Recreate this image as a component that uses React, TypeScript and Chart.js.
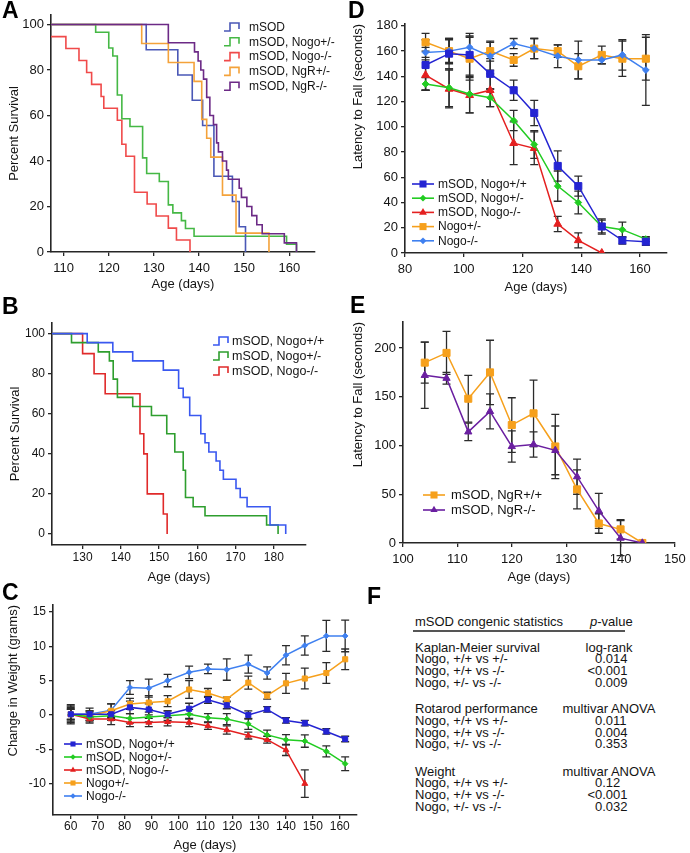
import React, { useEffect, useRef } from 'react';
import { Chart, registerables } from 'chart.js';

Chart.register(...registerables);

const FONT = '"Liberation Sans", Arial, Helvetica, sans-serif';
const AXIS = '#262626';
const TEXT = '#141414';
const ERR = '#2b2b2b';

// ---------------- Panel A: Kaplan-Meier (day of step, % surviving after it)
const A_MSOD_DAYS = [100, 128.3, 135.3, 138.5, 140.8, 143.3, 147.4, 148.9, 150.3];
const A_MSOD_SURV = [100, 88.9, 77.8, 66.7, 55.6, 33.3, 22.2, 11.1, 0];
const A_HET_DAYS = [100, 117.1, 120, 120.9, 121.9, 122.9, 124.7, 127.5, 128.4, 131.2, 133.2, 134.2, 136.1, 137, 138.9, 159.4, 161.6];
const A_HET_SURV = [100, 96.6, 89.7, 86.2, 69.0, 58.6, 55.2, 41.4, 34.5, 31.0, 20.7, 17.2, 13.8, 10.3, 6.9, 3.4, 0];
const A_KO_DAYS = [100, 106, 110.5, 113.4, 115.1, 116.2, 118.3, 118.9, 121.9, 122.9, 123.8, 125.7, 128.5, 130.5, 133.2, 135, 138];
const A_KO_SURV = [100, 94.7, 89.5, 84.2, 78.9, 73.7, 68.4, 63.2, 57.9, 47.4, 42.1, 26.3, 21.1, 15.8, 10.5, 5.3, 0];
const A_NGRHET_DAYS = [100, 127.3, 133.2, 138.9, 140.6, 141.7, 142.6, 145.2, 148.2, 155.5];
const A_NGRHET_SURV = [100, 91.7, 83.3, 75, 58.3, 50, 41.7, 25, 8.3, 0];
const A_NGRKO_DAYS = [100, 133.2, 139.0, 139.8, 140.4, 141.0, 141.7, 142.4, 143.2, 143.9, 144.3, 145.2, 146.1, 146.5, 148.9, 149.4, 150.6, 151.7, 152.8, 154.0, 158.9, 161.6];
const A_NGRKO_SURV = [100, 92, 88, 84, 80, 76, 68, 60, 56, 48, 44, 40, 36, 32, 28, 24, 20, 16, 12, 8, 4, 0];
const A_LABELS = ['mSOD', 'mSOD, Nogo+/-', 'mSOD, Nogo-/-', 'mSOD, NgR+/-', 'mSOD, NgR-/-'];
const A_X_TICKS = [110, 120, 130, 140, 150, 160];
const A_Y_TICKS = [0, 20, 40, 60, 80, 100];

// ---------------- Panel B: Kaplan-Meier
const B_WT_DAYS = [115, 131.2, 137.9, 143.1, 151.1, 155.1, 156.3, 158, 160.9, 162, 163, 164.9, 165.9, 166.8, 170.1, 171.2, 173, 179, 183.1];
const B_WT_SURV = [100, 95.5, 90.9, 86.4, 81.8, 72.7, 68.2, 59.1, 50, 45.5, 40.9, 36.4, 31.8, 27.3, 22.7, 18.2, 13.6, 4.5, 0];
const B_HET_DAYS = [115, 127.1, 134.1, 137, 138, 139.1, 143.1, 148, 152, 154.1, 156.3, 156.9, 158.9, 162, 178.1, 181.1];
const B_HET_SURV = [100, 95.5, 90.9, 86.4, 77.3, 68.2, 63.6, 59.1, 50, 40.9, 31.8, 18.2, 13.6, 9.1, 4.5, 0];
const B_KO_DAYS = [115, 130, 133, 135.9, 145, 146, 146.9, 151.1, 152.1];
const B_KO_SURV = [100, 90, 80, 70, 50, 40, 20, 10, 0];
const B_LABELS = ['mSOD, Nogo+/+', 'mSOD, Nogo+/-', 'mSOD, Nogo-/-'];
const B_X_TICKS = [130, 140, 150, 160, 170, 180];
const B_Y_TICKS = [0, 20, 40, 60, 80, 100];

// ---------------- Panel C: change in weight (grams)
const C_DAYS = [60, 67, 75, 82, 89, 96, 104, 111, 118, 126, 133, 140, 147, 155, 162];
const C_MSOD_WT = [0.1, 0.1, 0.1, 1.1, 0.8, 0.1, 0.9, 2.2, 1.4, 0.0, 0.8, -0.8, -1.2, -2.4, -3.5];
const C_MSOD_WT_ERR = [0.8, 0.5, 0.6, 0.9, 0.8, 0.5, 0.8, 0.5, 0.5, 0.6, 0.4, 0.4, 0.4, 0.4, 0.4];
const C_MSOD_HET = [0.1, -0.3, -0.1, -0.5, -0.3, -0.1, 0.1, -0.4, -0.6, -1.3, -2.9, -3.6, -3.8, -5.3, -7.1];
const C_MSOD_HET_ERR = [0.7, 0.7, 0.7, 0.7, 0.7, 0.7, 0.7, 0.6, 0.8, 0.8, 0.7, 0.75, 0.9, 0.8, 1.0];
const C_MSOD_KO = [0.1, -0.6, -0.6, -1.1, -1.1, -1.0, -1.1, -1.6, -2.2, -3.0, -3.6, -5.1, -10.0, null, null];
const C_MSOD_KO_ERR = [1.0, 0.6, 0.8, 0.6, 0.6, 0.6, 0.6, 0.5, 0.6, 0.5, 0.5, 0.8, 2.0, 0, 0];
const C_HET = [0.1, -0.1, 0.6, 1.6, 1.8, 2.0, 3.7, 3.2, 2.3, 4.7, 2.8, 4.6, 5.3, 6.1, 8.1];
const C_HET_ERR = [1.2, 0.7, 1.0, 0.8, 1.0, 0.8, 1.3, 0.65, 0.3, 0.95, 0.5, 1.45, 1.5, 1.5, 1.5];
const C_KO = [0.1, 0.1, 0.7, 4.0, 3.9, 5.0, 6.2, 6.7, 6.6, 7.4, 6.1, 8.7, 10.1, 11.5, 11.5];
const C_KO_ERR = [1.4, 0.9, 0.9, 1.0, 1.3, 0.9, 0.9, 0.7, 1.55, 1.3, 0.9, 1.4, 1.4, 2.25, 2.3];
const C_LABELS = ['mSOD, Nogo+/+', 'mSOD, Nogo+/-', 'mSOD, Nogo-/-', 'Nogo+/-', 'Nogo-/-'];
const C_X_TICKS = [60, 70, 80, 90, 100, 110, 120, 130, 140, 150, 160];
const C_Y_TICKS = [-10, -5, 0, 5, 10, 15];

// ---------------- Panel D: rotarod, Nogo
const D_DAYS = [87, 95, 102, 109, 117, 124, 132, 139, 147, 154, 162];
const D_MSOD_WT = [149, 158, 157, 142, 129, 111, 69, 53, 21, 10, 9];
const D_MSOD_WT_ERR = [20, 12, 17, 12, 8, 10, 12, 8, 6, 3, 3];
const D_MSOD_HET = [134, 131, 126, 123, 105, 86, 53, 40, 21, 18.5, 11];
const D_MSOD_HET_ERR = [5, 15, 15, 7, 8, 11, 12, 9, 5, 6, 2];
const D_MSOD_KO = [141, 130, 125, 129, 87, 83, 23, 10, 0, null, null];
const D_MSOD_KO_ERR = [12, 15, 14, 13, 17, 13, 6, 6, 0, 0, 0];
const D_HET = [167, 160, 154, 160, 153, 162, 160, 148, 157, 154, 154];
const D_HET_ERR = [7, 10, 17, 8, 5, 8, 5, 10, 7, 14, 17];
const D_KO = [159, 160, 163, 156, 166, 162, 156, 153, 153, 157, 145];
const D_KO_ERR = [4, 9, 9, 11, 4, 8, 9, 15, 3, 12, 28];
const D_LABELS = ['mSOD, Nogo+/+', 'mSOD, Nogo+/-', 'mSOD, Nogo-/-', 'Nogo+/-', 'Nogo-/-'];
const D_X_TICKS = [80, 100, 120, 140, 160];
const D_Y_TICKS = [0, 20, 40, 60, 80, 100, 120, 140, 160, 180];

// ---------------- Panel E: rotarod, NgR
const E_DAYS = [104, 108, 112, 116, 120, 124, 128, 132, 136, 140, 144];
const E_WT = [185, 195, 148, 175, 121, 133, 99, 55, 20, 14, 0];
const E_WT_ERR = [21, 22, 24, 33, 28, 34, 33, 20, 10, 10, 0];
const E_KO = [172, 169, 114, 135, 99, 101, 95, 68, 33, 5, 0];
const E_KO_ERR = [34, 6, 9, 18, 16, 13, 25, 18, 18, 18, 0];
const E_LABELS = ['mSOD, NgR+/+', 'mSOD, NgR-/-'];
const E_X_TICKS = [100, 110, 120, 130, 140, 150];
const E_Y_TICKS = [0, 50, 100, 150, 200];

// ---------------- Panel F: statistics table
const F_HEADER = 'mSOD congenic statistics';
const F_SECTIONS = [
  { title: 'Kaplan-Meier survival', test: 'log-rank', rows: [['Nogo, +/+ vs +/-', '0.014'], ['Nogo, +/+ vs -/-', '<0.001'], ['Nogo, +/- vs -/-', '0.009']] },
  { title: 'Rotarod performance', test: 'multivar ANOVA', rows: [['Nogo, +/+ vs +/-', '0.011'], ['Nogo, +/+ vs -/-', '0.004'], ['Nogo, +/- vs -/-', '0.353']] },
  { title: 'Weight', test: 'multivar ANOVA', rows: [['Nogo, +/+ vs +/-', '0.12'], ['Nogo, +/+ vs -/-', '<0.001'], ['Nogo, +/- vs -/-', '0.032']] },
];

// ---------------- colours
const COL = {
  aBlue: '#4a58b6', aGreen: '#45b845', aRed: '#f04a4a', aOrange: '#f4a23a', aPurple: '#6c2a86',
  bBlue: '#3a58f0', bGreen: '#2e9e2e', bRed: '#e02a2a',
  dBlue: '#2424d2', dGreen: '#22cc22', dRed: '#e42020', dOrange: '#f6a01c', dLight: '#3f80f0',
  ePurple: '#6a1fa0',
};

type Geo = { left: number; top: number; w: number; h: number; plotL: number; plotT: number; plotR: number; plotB: number; yTitleX: number; xTitleY: number; xTickY: number; tick: number };

const A_GEO: Geo = { left: 0, top: 0, w: 345, h: 296, plotL: 51, plotT: 15, plotR: 315, plotB: 252, yTitleX: 14, xTitleY: 284, xTickY: 268, tick: 13 };
const B_GEO: Geo = { left: 0, top: 298, w: 345, h: 292, plotL: 52, plotT: 323, plotR: 306, plotB: 545, yTitleX: 15, xTitleY: 577, xTickY: 558, tick: 12 };
const C_GEO: Geo = { left: 0, top: 592, w: 372, h: 261, plotL: 53, plotT: 605, plotR: 357, plotB: 815, yTitleX: 13, xTitleY: 845, xTickY: 827, tick: 12 };
const D_GEO: Geo = { left: 345, top: 0, w: 345, h: 296, plotL: 405, plotT: 24, plotR: 667, plotB: 253, yTitleX: 358, xTitleY: 287, xTickY: 269, tick: 13 };
const E_GEO: Geo = { left: 345, top: 298, w: 345, h: 292, plotL: 403, plotT: 322, plotR: 677, plotB: 543, yTitleX: 358, xTitleY: 577, xTickY: 559, tick: 13 };

function pts(xs: number[], ys: (number | null)[]) {
  return xs.map((x, i) => ({ x, y: ys[i] }));
}

function km(label: string, days: number[], surv: number[], color: string, order: number) {
  return { label, data: pts(days, surv), borderColor: color, backgroundColor: color, borderWidth: 1.6, pointRadius: 0, stepped: true, fill: false, order };
}

function series(label: string, days: number[], vals: (number | null)[], errs: number[], color: string, style: string, r: number, order: number) {
  return {
    label, data: pts(days, vals), errors: errs, borderColor: color, backgroundColor: color,
    pointBackgroundColor: color, pointBorderColor: color, pointBorderWidth: 1, pointStyle: style,
    pointRadius: r, borderWidth: 1.5, tension: 0, fill: false, spanGaps: false, order,
  };
}

function drawMarker(ctx: CanvasRenderingContext2D, style: string, x: number, y: number, r: number, color: string) {
  ctx.fillStyle = color;
  ctx.beginPath();
  if (style === 'rect') {
    const s = r * Math.SQRT1_2;
    ctx.rect(x - s, y - s, 2 * s, 2 * s);
  } else if (style === 'triangle') {
    let a = 0;
    ctx.moveTo(x + Math.sin(a) * r, y - Math.cos(a) * r);
    a += (2 * Math.PI) / 3;
    ctx.lineTo(x + Math.sin(a) * r, y - Math.cos(a) * r);
    a += (2 * Math.PI) / 3;
    ctx.lineTo(x + Math.sin(a) * r, y - Math.cos(a) * r);
    ctx.closePath();
  } else {
    ctx.moveTo(x, y - r);
    ctx.lineTo(x + r, y);
    ctx.lineTo(x, y + r);
    ctx.lineTo(x - r, y);
    ctx.closePath();
  }
  ctx.fill();
}

const errorBarPlugin = {
  id: 'errorBars',
  beforeDatasetsDraw(chart: any) {
    const ctx = chart.ctx as CanvasRenderingContext2D;
    const xs = chart.scales.x;
    const ys = chart.scales.y;
    ctx.save();
    ctx.strokeStyle = ERR;
    ctx.lineWidth = 1.3;
    chart.data.datasets.forEach((ds: any) => {
      if (!ds.errors) return;
      const cap = ds.cap || 4;
      ds.data.forEach((p: any, i: number) => {
        const e = ds.errors[i];
        if (!p || p.y == null || !e) return;
        const x = xs.getPixelForValue(p.x);
        const y1 = ys.getPixelForValue(p.y - e);
        const y2 = ys.getPixelForValue(p.y + e);
        ctx.beginPath();
        ctx.moveTo(x, y1); ctx.lineTo(x, y2);
        ctx.moveTo(x - cap, y1); ctx.lineTo(x + cap, y1);
        ctx.moveTo(x - cap, y2); ctx.lineTo(x + cap, y2);
        ctx.stroke();
      });
    });
    ctx.restore();
  },
};

type LegendSpec = {
  items: { label: string; color: string; style?: string; r?: number }[];
  kind: 'km' | 'line';
  iconX: number; iconW: number; textX: number; y0: number; dy: number; size: number;
};

function legendPlugin(g: Geo, L: LegendSpec) {
  return {
    id: 'panelLegend',
    afterDraw(chart: any) {
      const ctx = chart.ctx as CanvasRenderingContext2D;
      ctx.save();
      L.items.forEach((it, i) => {
        const yc = L.y0 + i * L.dy - g.top;
        const x0 = L.iconX - g.left;
        ctx.strokeStyle = it.color;
        ctx.lineWidth = 1.6;
        ctx.beginPath();
        if (L.kind === 'km') {
          ctx.moveTo(x0, yc + 4);
          ctx.lineTo(x0 + 6, yc + 4);
          ctx.lineTo(x0 + 6, yc - 4);
          ctx.lineTo(x0 + L.iconW, yc - 4);
          ctx.lineTo(x0 + L.iconW, yc + 2);
        } else {
          ctx.moveTo(x0, yc);
          ctx.lineTo(x0 + L.iconW, yc);
        }
        ctx.stroke();
        if (L.kind === 'line' && it.style) drawMarker(ctx, it.style, x0 + L.iconW / 2, yc, it.r || 3, it.color);
        ctx.fillStyle = TEXT;
        ctx.font = `${L.size}px ${FONT}`;
        ctx.textBaseline = 'middle';
        ctx.textAlign = 'left';
        ctx.fillText(it.label, L.textX - g.left, yc + 0.5);
      });
      ctx.restore();
    },
  };
}

type Spec = {
  geo: Geo; xMin: number; xMax: number; yMin: number; yMax: number;
  xTicks: number[]; yTicks: number[]; yTitle: string; yAlign: 'start' | 'center' | 'end';
  datasets: any[]; legend: LegendSpec;
};

function makeConfig(s: Spec): any {
  const g = s.geo;
  const lh = 13 * 1.2;
  return {
    type: 'line',
    data: { datasets: s.datasets },
    options: {
      responsive: false,
      animation: false,
      devicePixelRatio: 1,
      events: [],
      layout: { padding: { left: 0, top: g.plotT - g.top, right: g.left + g.w - g.plotR, bottom: 0 } },
      plugins: { legend: { display: false }, tooltip: { enabled: false }, title: { display: false } },
      scales: {
        x: {
          type: 'linear', min: s.xMin, max: s.xMax, bounds: 'data',
          afterBuildTicks: (sc: any) => { sc.ticks = s.xTicks.map((v) => ({ value: v })); },
          afterFit: (sc: any) => { sc.height = g.top + g.h - g.plotB; },
          ticks: { font: { size: g.tick, family: FONT }, color: TEXT, padding: g.xTickY - g.plotB - 4 - 0.6 * g.tick, maxRotation: 0, autoSkip: false },
          grid: { display: true, drawOnChartArea: false, drawTicks: true, tickLength: 4, color: AXIS, lineWidth: 1.3 },
          border: { display: true, color: AXIS, width: 1.6 },
          title: { display: true, text: 'Age (days)', font: { size: 13, family: FONT }, color: TEXT, padding: { top: 0, bottom: g.top + g.h - g.xTitleY - lh / 2 } },
        },
        y: {
          type: 'linear', min: s.yMin, max: s.yMax, bounds: 'data',
          afterBuildTicks: (sc: any) => { sc.ticks = s.yTicks.map((v) => ({ value: v })); },
          afterFit: (sc: any) => { sc.width = g.plotL - g.left; },
          ticks: { font: { size: g.tick, family: FONT }, color: TEXT, padding: 3, autoSkip: false },
          grid: { display: true, drawOnChartArea: false, drawTicks: true, tickLength: 4, color: AXIS, lineWidth: 1.3 },
          border: { display: true, color: AXIS, width: 1.6 },
          title: { display: true, text: s.yTitle, align: s.yAlign, font: { size: 13, family: FONT }, color: TEXT, padding: { top: g.yTitleX - g.left - lh / 2, bottom: 0 } },
        },
      },
    },
    plugins: [errorBarPlugin, legendPlugin(g, s.legend)],
  };
}

function PanelChart({ spec }: { spec: Spec }) {
  const ref = useRef<HTMLCanvasElement>(null);
  useEffect(() => {
    if (!ref.current) return;
    const chart = new Chart(ref.current, makeConfig(spec));
    return () => chart.destroy();
  }, []);
  const g = spec.geo;
  return (
    <canvas ref={ref} width={g.w} height={g.h}
      style={{ position: 'absolute', left: g.left, top: g.top, width: g.w, height: g.h }} />
  );
}

const SPEC_A: Spec = {
  geo: A_GEO, xMin: 107.2, xMax: 165.7, yMin: 0, yMax: 104.2, xTicks: A_X_TICKS, yTicks: A_Y_TICKS,
  yTitle: 'Percent Survival', yAlign: 'center',
  datasets: [
    km(A_LABELS[4], A_NGRKO_DAYS, A_NGRKO_SURV, COL.aPurple, 0),
    km(A_LABELS[3], A_NGRHET_DAYS, A_NGRHET_SURV, COL.aOrange, 1),
    km(A_LABELS[0], A_MSOD_DAYS, A_MSOD_SURV, COL.aBlue, 2),
    km(A_LABELS[1], A_HET_DAYS, A_HET_SURV, COL.aGreen, 3),
    km(A_LABELS[2], A_KO_DAYS, A_KO_SURV, COL.aRed, 4),
  ],
  legend: {
    kind: 'km', iconX: 224, iconW: 15, textX: 249, y0: 27, dy: 14.8, size: 12,
    items: [
      { label: A_LABELS[0], color: COL.aBlue }, { label: A_LABELS[1], color: COL.aGreen },
      { label: A_LABELS[2], color: COL.aRed }, { label: A_LABELS[3], color: COL.aOrange },
      { label: A_LABELS[4], color: COL.aPurple },
    ],
  },
};

const SPEC_B: Spec = {
  geo: B_GEO, xMin: 122, xMax: 188.4, yMin: -5.5, yMax: 105.3, xTicks: B_X_TICKS, yTicks: B_Y_TICKS,
  yTitle: 'Percent Survival', yAlign: 'center',
  datasets: [
    km(B_LABELS[0], B_WT_DAYS, B_WT_SURV, COL.bBlue, 0),
    km(B_LABELS[1], B_HET_DAYS, B_HET_SURV, COL.bGreen, 1),
    km(B_LABELS[2], B_KO_DAYS, B_KO_SURV, COL.bRed, 2),
  ],
  legend: {
    kind: 'km', iconX: 213, iconW: 15, textX: 232, y0: 341, dy: 15, size: 12.5,
    items: [
      { label: B_LABELS[0], color: COL.bBlue }, { label: B_LABELS[1], color: COL.bGreen },
      { label: B_LABELS[2], color: COL.bRed },
    ],
  },
};

const SPEC_C: Spec = {
  geo: C_GEO, xMin: 53.4, xMax: 166.4, yMin: -14.56, yMax: 16.0, xTicks: C_X_TICKS, yTicks: C_Y_TICKS,
  yTitle: 'Change in Weight (grams)', yAlign: 'end',
  datasets: [
    series(C_LABELS[4], C_DAYS, C_KO, C_KO_ERR, COL.dLight, 'rectRot', 2.8, 4),
    series(C_LABELS[3], C_DAYS, C_HET, C_HET_ERR, COL.dOrange, 'rect', 3.6, 3),
    series(C_LABELS[0], C_DAYS, C_MSOD_WT, C_MSOD_WT_ERR, COL.dBlue, 'rect', 3.6, 0),
    series(C_LABELS[1], C_DAYS, C_MSOD_HET, C_MSOD_HET_ERR, COL.dGreen, 'rectRot', 2.8, 1),
    series(C_LABELS[2], C_DAYS, C_MSOD_KO, C_MSOD_KO_ERR, COL.dRed, 'triangle', 3.4, 2),
  ],
  legend: {
    kind: 'line', iconX: 64, iconW: 18, textX: 86, y0: 744, dy: 13, size: 12,
    items: [
      { label: C_LABELS[0], color: COL.dBlue, style: 'rect', r: 3.6 },
      { label: C_LABELS[1], color: COL.dGreen, style: 'rectRot', r: 2.8 },
      { label: C_LABELS[2], color: COL.dRed, style: 'triangle', r: 3.4 },
      { label: C_LABELS[3], color: COL.dOrange, style: 'rect', r: 3.6 },
      { label: C_LABELS[4], color: COL.dLight, style: 'rectRot', r: 2.8 },
    ],
  },
};

const SPEC_D: Spec = {
  geo: D_GEO, xMin: 80, xMax: 169.2, yMin: 0, yMax: 181.5, xTicks: D_X_TICKS, yTicks: D_Y_TICKS,
  yTitle: 'Latency to Fall (seconds)', yAlign: 'end',
  datasets: [
    series(D_LABELS[0], D_DAYS, D_MSOD_WT, D_MSOD_WT_ERR, COL.dBlue, 'rect', 5, 0),
    series(D_LABELS[1], D_DAYS, D_MSOD_HET, D_MSOD_HET_ERR, COL.dGreen, 'rectRot', 3.4, 1),
    series(D_LABELS[2], D_DAYS, D_MSOD_KO, D_MSOD_KO_ERR, COL.dRed, 'triangle', 4.5, 2),
    series(D_LABELS[3], D_DAYS, D_HET, D_HET_ERR, COL.dOrange, 'rect', 5, 4),
    series(D_LABELS[4], D_DAYS, D_KO, D_KO_ERR, COL.dLight, 'rectRot', 3.4, 3),
  ],
  legend: {
    kind: 'line', iconX: 412, iconW: 22, textX: 438, y0: 184, dy: 14.2, size: 12,
    items: [
      { label: D_LABELS[0], color: COL.dBlue, style: 'rect', r: 5 },
      { label: D_LABELS[1], color: COL.dGreen, style: 'rectRot', r: 3.4 },
      { label: D_LABELS[2], color: COL.dRed, style: 'triangle', r: 4.5 },
      { label: D_LABELS[3], color: COL.dOrange, style: 'rect', r: 5 },
      { label: D_LABELS[4], color: COL.dLight, style: 'rectRot', r: 3.4 },
    ],
  },
};

const SPEC_E: Spec = {
  geo: E_GEO, xMin: 100, xMax: 150, yMin: 0, yMax: 226.7, xTicks: E_X_TICKS, yTicks: E_Y_TICKS,
  yTitle: 'Latency to Fall (seconds)', yAlign: 'end',
  datasets: [
    series(E_LABELS[1], E_DAYS, E_KO, E_KO_ERR, COL.ePurple, 'triangle', 4.2, 0),
    series(E_LABELS[0], E_DAYS, E_WT, E_WT_ERR, COL.dOrange, 'rect', 5, 1),
  ],
  legend: {
    kind: 'line', iconX: 423, iconW: 22, textX: 451, y0: 495, dy: 15, size: 13,
    items: [
      { label: E_LABELS[0], color: COL.dOrange, style: 'rect', r: 5 },
      { label: E_LABELS[1], color: COL.ePurple, style: 'triangle', r: 4.2 },
    ],
  },
};

const LETTERS: [string, number, number][] = [
  ['A', 2, 2], ['B', 2, 298], ['C', 2, 584], ['D', 348, 2], ['E', 350, 297], ['F', 367, 588],
];

function Txt({ x, yc, children, style }: { x: number; yc: number; children: any; style?: any }) {
  return (
    <div style={{ position: 'absolute', left: x, top: yc - 7, fontSize: 13, lineHeight: '14px', whiteSpace: 'nowrap', color: TEXT, ...style }}>
      {children}
    </div>
  );
}

function Value({ v, yc }: { v: string; yc: number }) {
  const lt = v.startsWith('<');
  return (
    <Txt x={595} yc={yc}>
      {lt ? <span style={{ position: 'absolute', right: '100%', top: 0 }}>{'<'}</span> : null}
      {lt ? v.slice(1) : v}
    </Txt>
  );
}

function TableF() {
  const starts = [647.7, 709.3, 771.7];
  const step = 11.7;
  const out: any[] = [];
  F_SECTIONS.forEach((sec, si) => {
    const y0 = starts[si];
    out.push(<Txt key={`t${si}`} x={415} yc={y0}>{sec.title}</Txt>);
    out.push(<Txt key={`m${si}`} x={609} yc={y0} style={{ transform: 'translateX(-50%)' }}>{sec.test}</Txt>);
    sec.rows.forEach((r, ri) => {
      out.push(<Txt key={`r${si}-${ri}`} x={415} yc={y0 + step * (ri + 1)}>{r[0]}</Txt>);
      out.push(<Value key={`v${si}-${ri}`} v={r[1]} yc={y0 + step * (ri + 1)} />);
    });
  });
  return (
    <>
      <Txt x={415} yc={621.7}>{F_HEADER}</Txt>
      <Txt x={590} yc={621.7}><i>p</i>-value</Txt>
      <div style={{ position: 'absolute', left: 413, top: 629.5, width: 212, height: 2, background: '#555' }} />
      {out}
    </>
  );
}

export default function App() {
  useEffect(() => {
    Chart.defaults.font.family = FONT;
  }, []);
  return (
    <div style={{ position: 'absolute', left: 0, top: 0, width: 690, height: 853, background: '#fff', overflow: 'hidden', fontFamily: FONT }}>
      <PanelChart spec={SPEC_A} />
      <PanelChart spec={SPEC_B} />
      <PanelChart spec={SPEC_C} />
      <PanelChart spec={SPEC_D} />
      <PanelChart spec={SPEC_E} />
      {LETTERS.map(([t, x, y]) => (
        <div key={t} style={{ position: 'absolute', left: x, top: y - 3, fontSize: 23, lineHeight: '23px', fontWeight: 'bold', color: '#000' }}>{t}</div>
      ))}
      <TableF />
    </div>
  );
}
